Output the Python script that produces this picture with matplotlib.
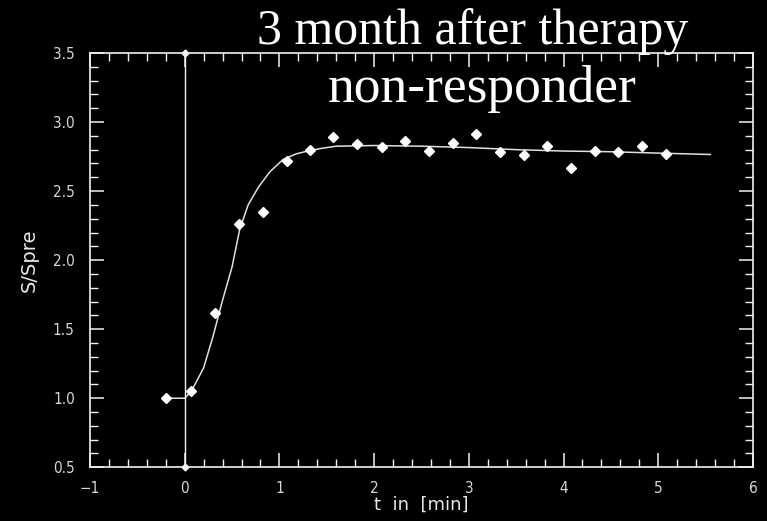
import matplotlib
matplotlib.use("Agg")
import matplotlib.pyplot as plt
from matplotlib.ticker import MultipleLocator, FormatStrFormatter

# Measured signal ratio S/Spre over time (minutes)
t_data = [-0.2, 0.07, 0.32, 0.57, 0.83, 1.08, 1.32, 1.57, 1.82, 2.08, 2.33,
          2.58, 2.83, 3.08, 3.33, 3.58, 3.83, 4.08, 4.33, 4.58, 4.83, 5.08]
s_data = [1.00, 1.05, 1.62, 2.26, 2.35, 2.72, 2.80, 2.89, 2.84, 2.82, 2.86,
          2.79, 2.85, 2.91, 2.78, 2.76, 2.83, 2.67, 2.79, 2.78, 2.83, 2.77]

# Fitted enhancement curve
t_fit = [-0.2, 0.0, 0.07, 0.2, 0.3, 0.4, 0.5, 0.58, 0.67, 0.78, 0.9, 1.04,
         1.18, 1.3, 1.45, 1.6, 2.0, 2.5, 3.0, 3.5, 4.0, 4.5, 5.0, 5.55]
s_fit = [1.0, 1.0, 1.05, 1.22, 1.45, 1.71, 1.95, 2.22, 2.40, 2.53, 2.64, 2.73,
         2.77, 2.79, 2.81, 2.825, 2.83, 2.825, 2.815, 2.80, 2.79, 2.785, 2.775, 2.765]

# Injection marker at t = 0
t_inj = [0.0, 0.0]
s_inj = [0.5, 3.5]

title_lines = ["3 month after therapy", "non-responder"]

fg = "#f2f2f2"
fig = plt.figure(figsize=(7.67, 5.21), dpi=100, facecolor="black")
ax = fig.add_axes([0.1173, 0.1031, 0.8644, 0.7952], facecolor="black")

ax.plot(t_inj, s_inj, color=fg, lw=1.0, marker="D", ms=3.5,
        mfc=fg, mec=fg, clip_on=False, zorder=3)
ax.plot(t_fit, s_fit, color="#e0e0e0", lw=1.1, zorder=2)
ax.plot(t_data, s_data, ls="none", marker="D", ms=5, mfc="white",
        mec="white", zorder=4)

ax.set_xlim(-1, 6)
ax.set_ylim(0.5, 3.5)
ax.xaxis.set_major_locator(MultipleLocator(1))
ax.xaxis.set_minor_locator(MultipleLocator(0.2))
ax.yaxis.set_major_locator(MultipleLocator(0.5))
ax.yaxis.set_minor_locator(MultipleLocator(0.1))
ax.yaxis.set_major_formatter(FormatStrFormatter("%.1f"))

for s in ax.spines.values():
    s.set_color(fg)
    s.set_linewidth(1.2)
ax.tick_params(which="both", direction="in", top=True, right=True,
               colors=fg, labelcolor="#d8d8d8", labelsize=11)
ax.tick_params(which="major", length=10, width=1.1)
ax.tick_params(which="minor", length=6, width=1.0)
ax.tick_params(axis="x", which="major", pad=10)
ax.tick_params(axis="y", which="major", pad=11)
for lbl in ax.get_xticklabels() + ax.get_yticklabels():
    lbl.set_fontstretch("condensed")

ax.set_xlabel("t  in  [min]", color="#e8e8e8", fontsize=13, labelpad=0)
ax.set_ylabel("S/Spre", color="#e8e8e8", fontsize=14, labelpad=10)

fig.text(0.616, 0.915, title_lines[0], color="white", fontsize=36,
         family="Liberation Serif", ha="center", va="baseline")
fig.text(0.629, 0.804, title_lines[1], color="white", fontsize=38.5,
         family="Liberation Serif", ha="center", va="baseline")

fig.savefig("out.png", dpi=100, facecolor="black")
